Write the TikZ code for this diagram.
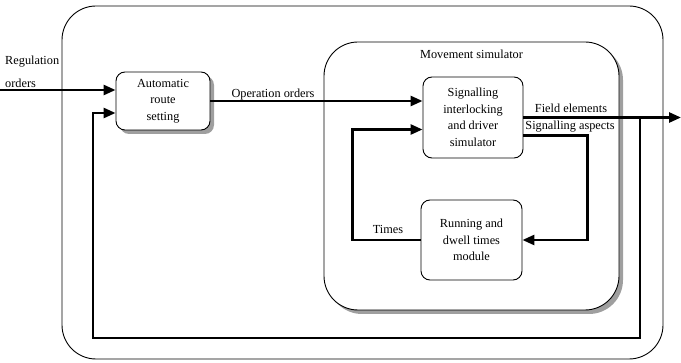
\documentclass[tikz,border=0pt]{standalone}
\usepackage{fontspec}
\setmainfont{Liberation Serif}
\usetikzlibrary{arrows.meta,positioning,shadows,calc}

\begin{document}
\begin{tikzpicture}[x=1pt,y=1pt,
        font=\fontsize{12.3}{16.5}\selectfont,
        frame/.style={draw,line width=0.9pt,rounded corners=34pt},
        block/.style={draw,line width=0.9pt,rounded corners=9pt,fill=white,align=center},
        shadowed/.style={drop shadow={shadow xshift=4pt,shadow yshift=-4pt,fill=gray!75,opacity=1}},
        flow/.style={line width=2.6pt,-{Triangle[length=12pt,width=10pt]}},
        label/.style={inner sep=1pt}]
        \useasboundingbox (0,0) rectangle (681,362);
        \node[frame,minimum width=601pt,minimum height=353pt] (system) at (362.5,179.5) {};
        \node[frame,shadowed,fill=white,minimum width=295pt,minimum height=268pt] (movement) at (471.5,186) {};
        \node[label,below=7pt of movement.north] (movtitle) {Movement simulator};
        \node[block,shadowed,minimum width=94pt,minimum height=58pt] (auto) at (163,261) {Automatic\\route\\setting};
        \node[block,minimum width=100pt,minimum height=81pt] (signal) at (473,244.5) {Signalling\\interlocking\\and driver\\simulator};
        \node[block,minimum width=101pt,minimum height=80pt] (running) at (471.5,122) {Running and\\dwell times\\module};
        \coordinate (regin) at (0,272);
        \coordinate (out) at (681,244.5);
        \coordinate (tap) at (640,244.5);
        \coordinate (bottom) at (93,24);
        \node[label,anchor=west] (reglabel) at (4,300) {Regulation};
        \node[label,anchor=west] (ordlabel) at (4,279) {orders};
        \node[label] (oplabel) at (273,267) {Operation orders};
        \node[label] (fieldlabel) at (571,254) {Field elements};
        \node[label] (asplabel) at (570,235) {Signalling aspects};
        \node[label] (timeslabel) at (388,133) {Times};
        \draw[flow] (regin) -- (regin -| auto.west);
        \draw[flow] (auto.east) -- (auto.east -| signal.west);
        \draw[flow] (signal.east) -- (out);
        \draw[flow] (tap) |- (bottom) |- ([yshift=-12pt]auto.west);
        \draw[flow] (running.west) -- ++(-68,0) |- ([yshift=-12pt]signal.west);
        \draw[flow] ([yshift=-18pt]signal.east) -- ++(64,0) |- (running.east);
\end{tikzpicture}
\end{document}
